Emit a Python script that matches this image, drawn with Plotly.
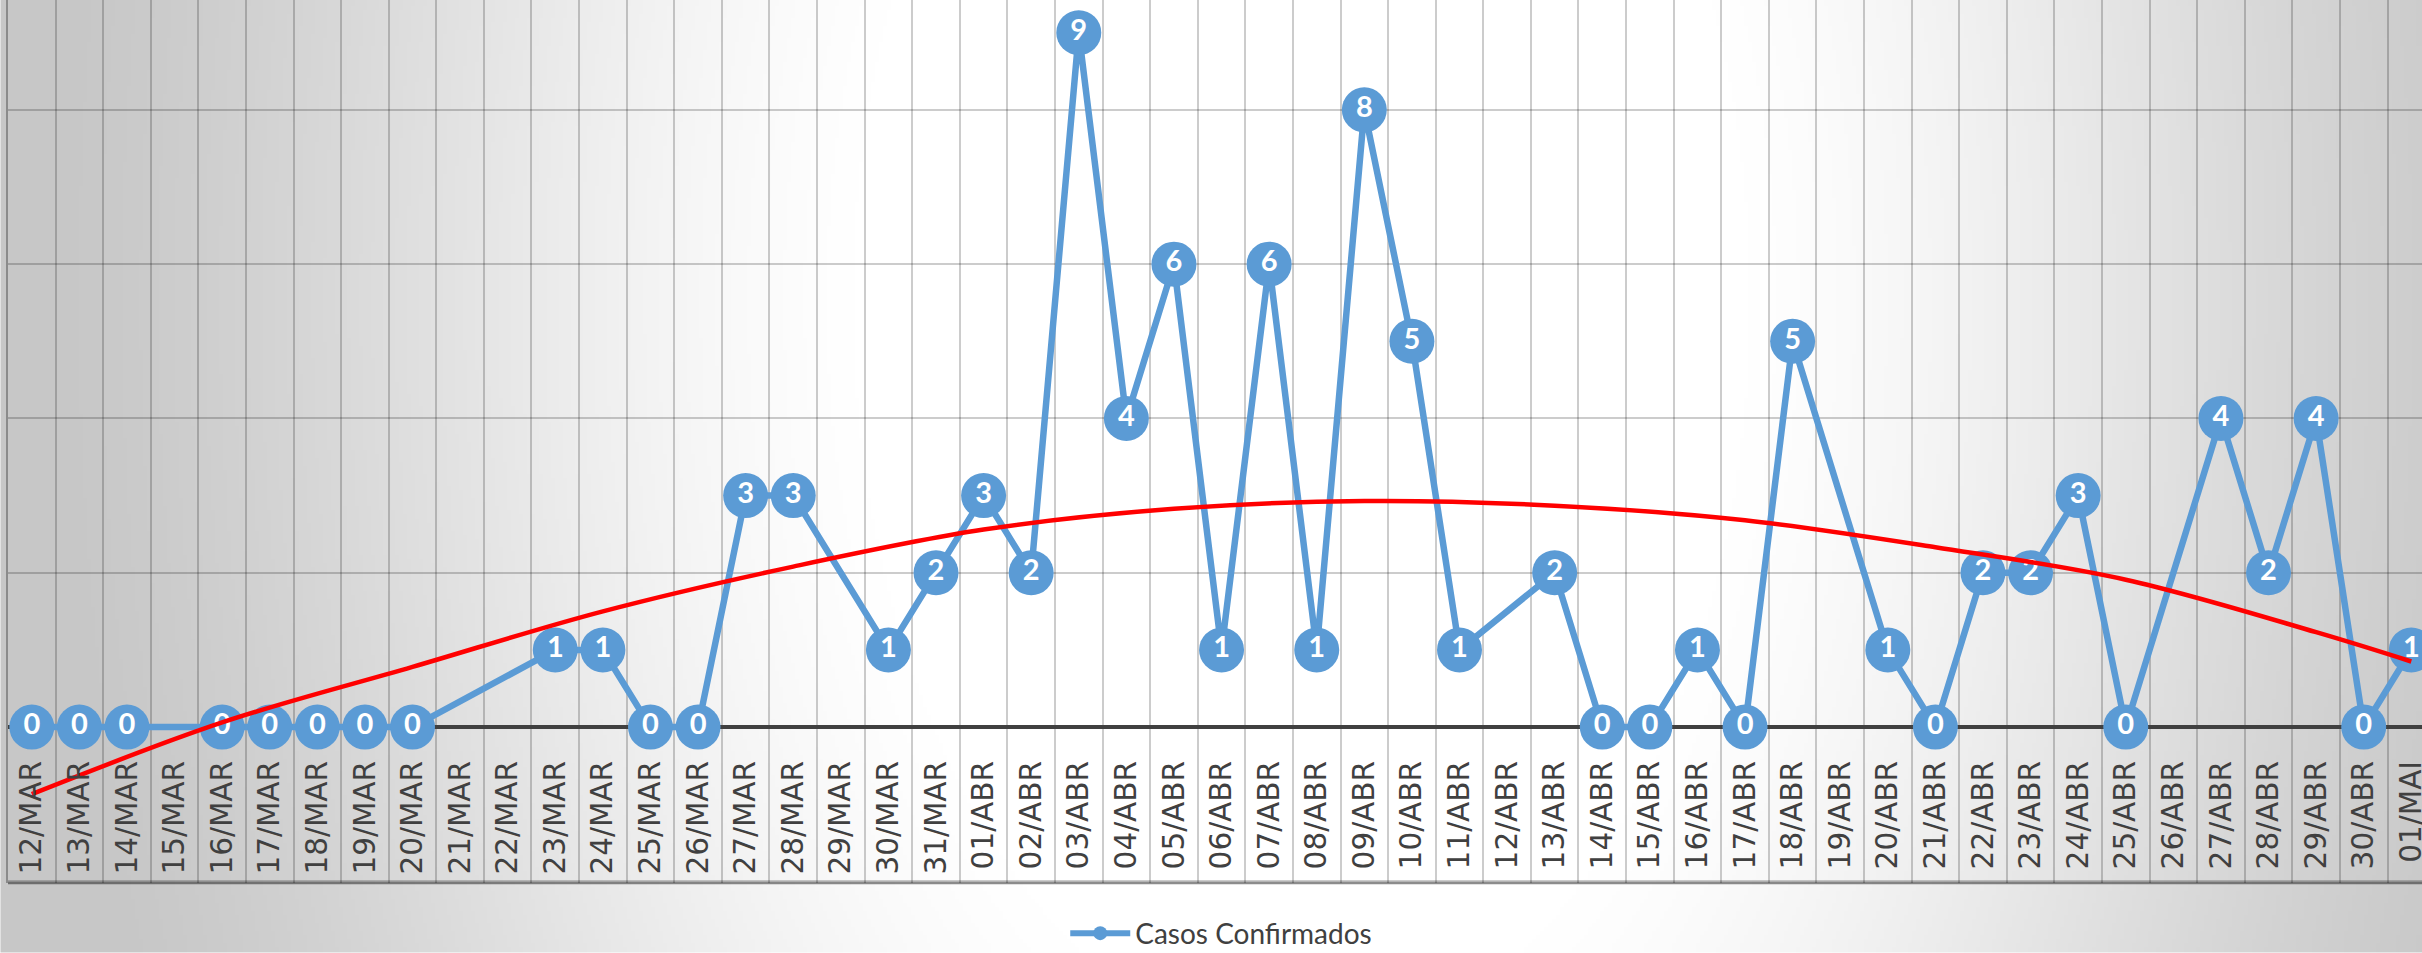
import base64
import struct
import zlib

import numpy as np
import plotly.graph_objects as go

# ---------------- data ----------------
dates = [
    "12/MAR", "13/MAR", "14/MAR", "15/MAR", "16/MAR", "17/MAR", "18/MAR", "19/MAR", "20/MAR",
    "21/MAR", "22/MAR", "23/MAR", "24/MAR", "25/MAR", "26/MAR", "27/MAR", "28/MAR", "29/MAR",
    "30/MAR", "31/MAR",
    "01/ABR", "02/ABR", "03/ABR", "04/ABR", "05/ABR", "06/ABR", "07/ABR", "08/ABR", "09/ABR",
    "10/ABR", "11/ABR", "12/ABR", "13/ABR", "14/ABR", "15/ABR", "16/ABR", "17/ABR", "18/ABR",
    "19/ABR", "20/ABR", "21/ABR", "22/ABR", "23/ABR", "24/ABR", "25/ABR", "26/ABR", "27/ABR",
    "28/ABR", "29/ABR", "30/ABR",
    "01/MAI",
]

casos = [
    0, 0, 0, None, 0, 0, 0, 0, 0,
    None, None, 1, 1, 0, 0, 3, 3, None,
    1, 2,
    3, 2, 9, 4, 6, 1, 6, 1, 8,
    5, 1, None, 2, 0, 0, 1, 0, 5,
    None, 1, 0, 2, 2, 3, 0, None, 4,
    2, 4, 0,
    1,
]

# trend line (at selected days)
trend_dates = ["12/MAR", "16/MAR", "20/MAR", "24/MAR", "28/MAR", "01/ABR", "05/ABR",
               "09/ABR", "13/ABR", "17/ABR", "21/ABR", "25/ABR", "29/ABR", "01/MAI"]
trend_values = [-0.87, 0.06, 0.78, 1.50, 2.08, 2.56, 2.83,
                2.93, 2.87, 2.68, 2.33, 1.91, 1.23, 0.85]

series_name = "Casos Confirmados"

# ---------------- layout constants ----------------
W, H = 2422, 953
ML, MR, MT, MB = 7.5, 0, 0, 69.5
PW, PH = W - ML - MR, H - MT - MB
CAT_W = 47.6
PX_PER_UNIT = 77.2
ZERO_PX = 727.5  # from top

y_top = ZERO_PX / PX_PER_UNIT
y_bot = -(PH - ZERO_PX) / PX_PER_UNIT
x_max = PW / CAT_W - 0.5

BLUE = "#5B9BD5"


# ---------------- background gradient (style only) ----------------
def png_gray(arr):
    h, w = arr.shape
    raw = b"".join(b"\x00" + arr[i].tobytes() for i in range(h))

    def chunk(t, d):
        c = struct.pack(">I", len(d)) + t + d
        return c + struct.pack(">I", zlib.crc32(t + d) & 0xFFFFFFFF)

    return (b"\x89PNG\r\n\x1a\n"
            + chunk(b"IHDR", struct.pack(">IIBBBBB", w, h, 8, 0, 0, 0, 0))
            + chunk(b"IDAT", zlib.compress(raw, 9))
            + chunk(b"IEND", b""))


scale = 4
gw, gh = W // scale, H // scale
gx = (np.arange(gw) + 0.5) * scale
gy = (np.arange(gh) + 0.5) * scale
GX, GY = np.meshgrid(gx, gy)
r = np.sqrt((GX - 1300) ** 2 + (0.6 * (GY - 300)) ** 2)
t = np.clip((r - 450) / 800, 0, 1)
t = t * t * (3 - 2 * t) * 0.5 + t * 0.5
bg = (255 - 56 * t).astype(np.uint8)
bg_uri = "data:image/png;base64," + base64.b64encode(png_gray(bg)).decode()

# ---------------- figure ----------------
fig = go.Figure()

fig.add_trace(go.Scatter(
    x=dates, y=casos, name=series_name, mode="lines+markers+text",
    connectgaps=True, showlegend=False,
    line=dict(color=BLUE, width=6.5),
    marker=dict(color=BLUE, size=45, line=dict(width=0)),
    text=[None if v is None else str(v) for v in casos],
    textposition="middle center",
    textfont=dict(family="Lato", size=29, color="white", weight="bold"),
    cliponaxis=False, hoverinfo="x+y",
))

fig.add_trace(go.Scatter(
    x=trend_dates, y=trend_values, mode="lines", showlegend=False,
    line=dict(color="#FF0000", width=4.5, shape="spline", smoothing=1.0),
    hoverinfo="skip",
))

# legend entry
fig.add_trace(go.Scatter(
    x=[None], y=[None], name=series_name, mode="lines+markers",
    line=dict(color=BLUE, width=6),
    marker=dict(color=BLUE, size=14),
))

fig.update_layout(
    width=W, height=H,
    margin=dict(l=ML, r=MR, t=MT, b=MB, pad=0, autoexpand=False),
    paper_bgcolor="white",
    plot_bgcolor="rgba(0,0,0,0)",
    images=[dict(
        source=bg_uri, xref="paper", yref="paper",
        x=-ML / PW, y=1 + MT / PH, sizex=W / PW, sizey=H / PH,
        xanchor="left", yanchor="top", sizing="stretch", layer="below",
    )],
    showlegend=True,
    legend=dict(
        orientation="h", x=(1221 - ML) / PW, xanchor="center",
        y=-(934 - (MT + PH)) / PH, yanchor="middle",
        bgcolor="rgba(255,255,255,0.45)",
        font=dict(family="Lato", size=28, color="#404040"),
        itemwidth=60,
    ),
    xaxis=dict(
        type="category", categoryorder="array", categoryarray=dates,
        range=[-0.5, x_max],
        anchor="free", position=(PH - ZERO_PX) / PH,
        tickson="boundaries", ticks="", showline=False,
        showgrid=True, gridcolor="rgba(0,0,0,0.2)", gridwidth=2,
        tickangle=-90, ticklabelstandoff=27,
        tickfont=dict(family="DejaVu Sans", size=29.5, color="#404040"),
        zeroline=False, automargin=False,
    ),
    yaxis=dict(
        range=[y_bot, y_top], tick0=0, dtick=2,
        showticklabels=False, ticks="",
        showgrid=True, gridcolor="rgba(0,0,0,0.2)", gridwidth=2,
        zeroline=True, zerolinecolor="#404040", zerolinewidth=3.5,
        showline=True, linecolor="rgba(0,0,0,0.3)", linewidth=1.5,
        automargin=False,
    ),
    shapes=[dict(
        type="line", xref="paper", yref="paper", x0=0, x1=1, y0=0, y1=0,
        line=dict(color="rgba(0,0,0,0.45)", width=2.5),
    )],
)

fig.write_html(
    "out.html",
    config={"displayModeBar": False},
    post_script="document.body.style.margin='0';document.body.style.overflow='hidden';",
)
